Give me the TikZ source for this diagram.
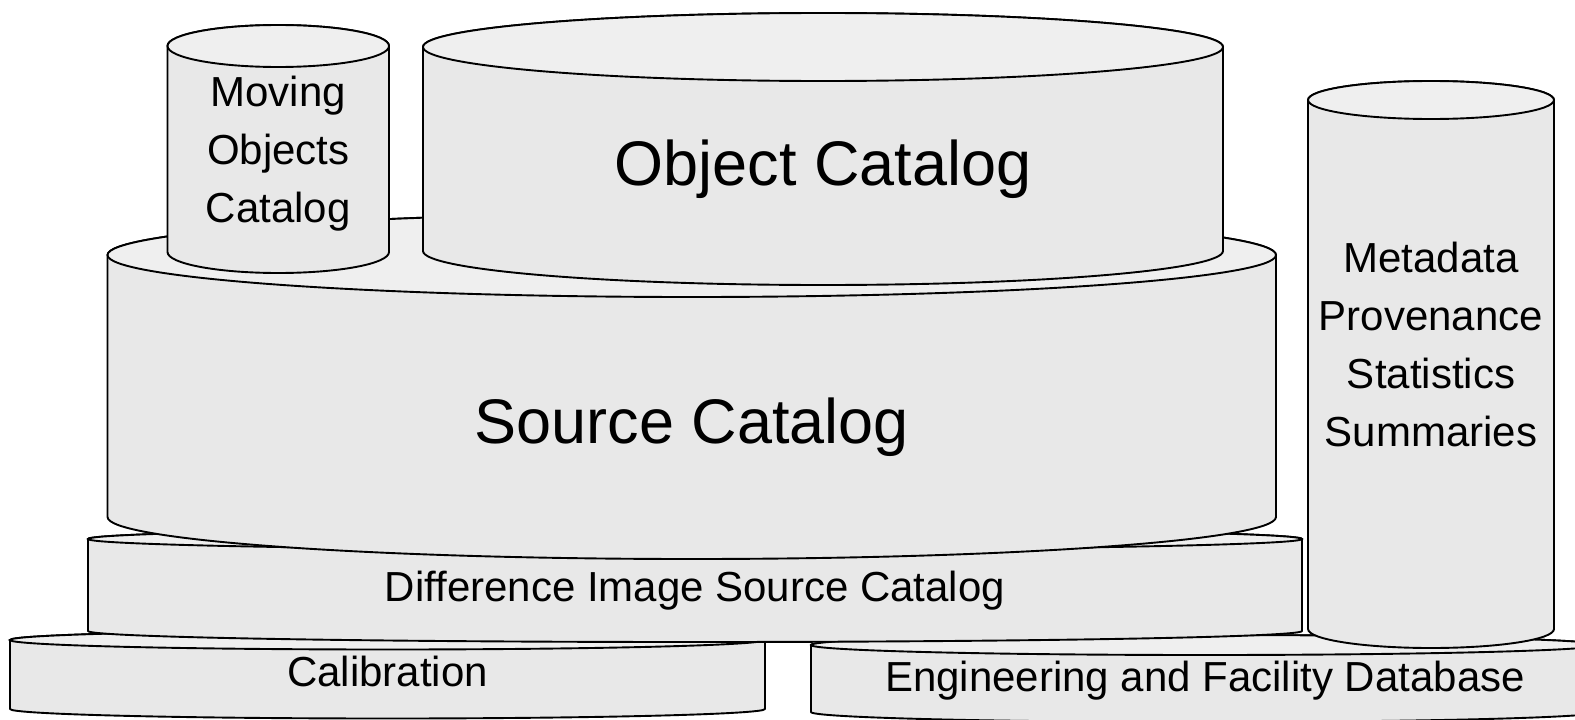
\documentclass[tikz,border=0pt]{standalone}
\usepackage{fontspec}
\setmainfont{Liberation Sans}
\definecolor{cylside}{HTML}{E8E8E8}
\definecolor{cyltopc}{HTML}{EFEFEF}
\tikzset{
  cylbody/.style={fill=cylside, draw=black, line width=1.9pt, line join=round},
  cyltop/.style={fill=cyltopc, draw=black, line width=1.9pt},
  bigtxt/.style={font=\fontsize{63}{70}\selectfont, anchor=base, inner sep=0pt},
  midtxt/.style={font=\fontsize{42}{58}\selectfont, anchor=base, inner sep=0pt, align=center},
}
% #1 name, #2 xl, #3 xr, #4 top centre y, #5 bottom centre y, #6 ry, #7 baseline y (last line), #8 style, #9 text
\newcommand\dbcylinder[9]{%
  \pgfmathsetmacro\cylcx{(#2+#3)/2}%
  \pgfmathsetmacro\cylrx{(#3-#2)/2}%
  \path[cylbody] (#2,-#4) -- (#2,-#5) arc[start angle=180,end angle=360,x radius=\cylrx,y radius=#6]
     -- (#3,-#4) arc[start angle=0,end angle=180,x radius=\cylrx,y radius=#6] -- cycle;
  \path[cyltop] (\cylcx,-#4) ellipse[x radius=\cylrx, y radius=#6];
  \node[#8] (#1) at (\cylcx,-#7) {#9};
}
\begin{document}
\begin{tikzpicture}[x=1pt,y=1pt]
\useasboundingbox (0,0) rectangle (1575,-720);
\begin{scope}
\clip (0,0) rectangle (1575,-720);
\dbcylinder{cal}{10}{765}{640}{709}{9.5}{686}{midtxt}{Calibration}
\dbcylinder{efd}{811}{1599}{645}{712}{10}{691}{midtxt}{Engineering and Facility Database}
\dbcylinder{disc}{88}{1302}{539}{631}{11}{601}{midtxt}{Difference Image Source Catalog}
\dbcylinder{meta}{1308}{1554}{100}{629}{19}{446}{midtxt}{Metadata\\Provenance\\Statistics\\Summaries}
\dbcylinder{src}{107.5}{1276}{255}{517}{42}{443}{bigtxt}{Source Catalog}
\dbcylinder{moc}{167.5}{389}{46}{252}{21}{222}{midtxt}{Moving\\Objects\\Catalog}
\dbcylinder{obj}{423}{1223}{47}{251}{34}{185}{bigtxt}{Object Catalog}
\end{scope}
\end{tikzpicture}
\end{document}
